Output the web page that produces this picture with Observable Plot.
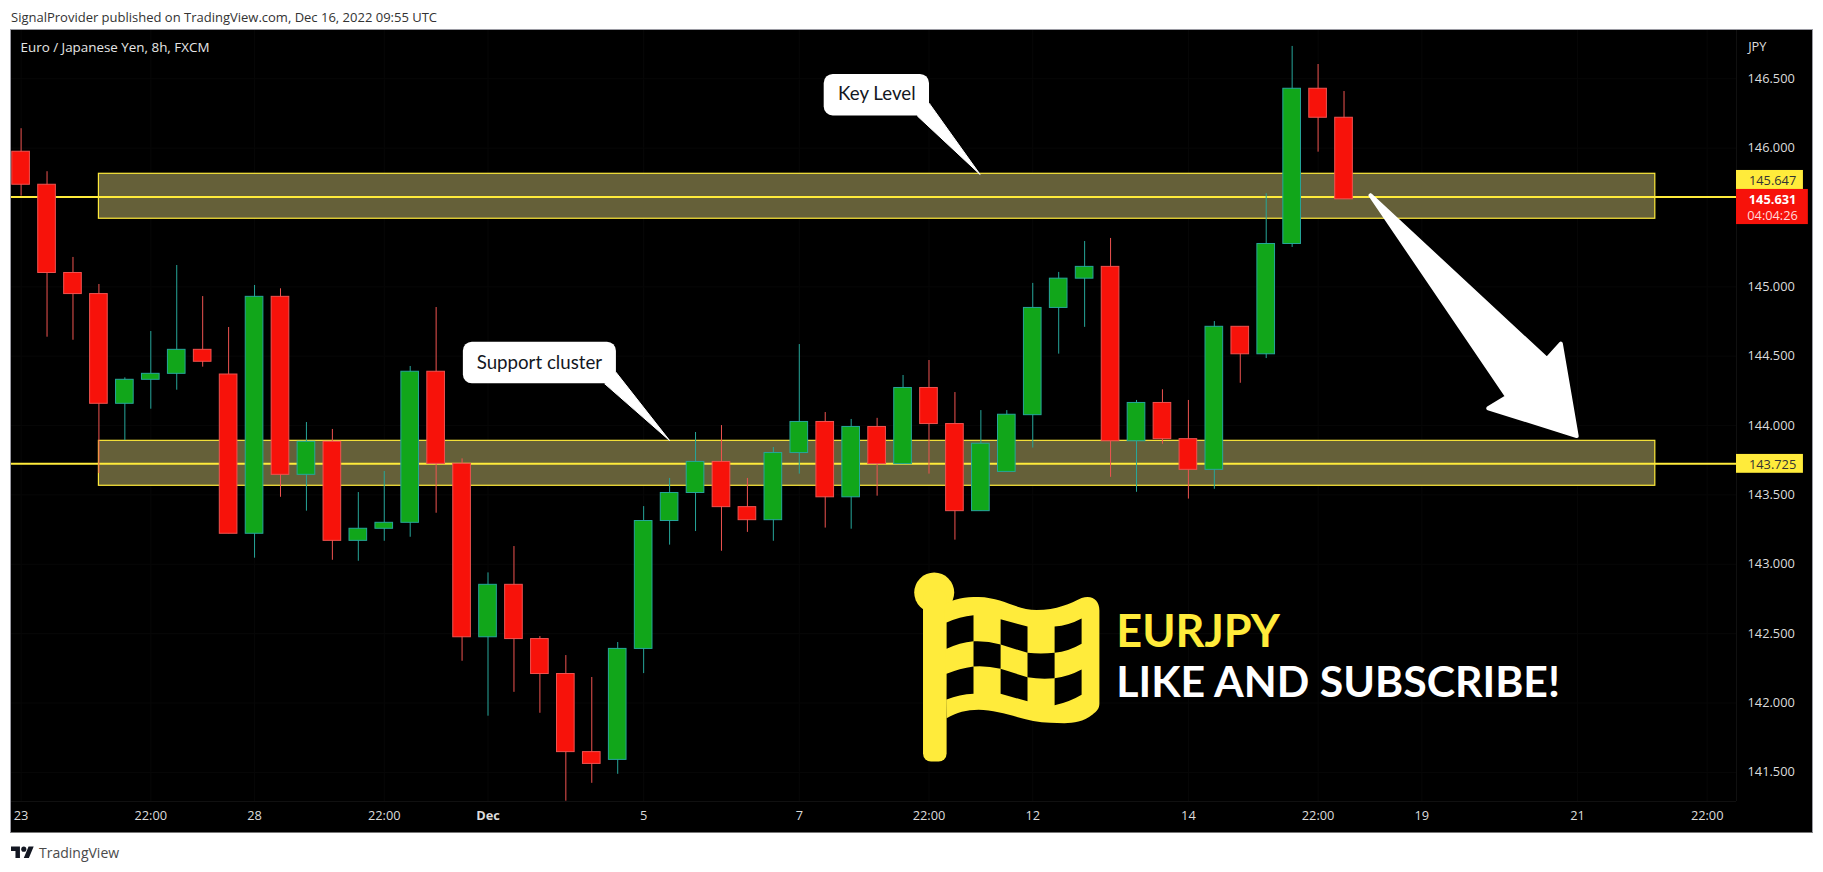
<!DOCTYPE html>
<html><head><meta charset="utf-8">
<style>
html,body{margin:0;padding:0;background:#fff;overflow:hidden}
#head{height:29px;box-sizing:border-box;padding:10px 0 0 11px;font:13px/14px "Open Sans",sans-serif;color:#333;white-space:nowrap}
#chart{margin-left:10px;width:1801px;height:802px;border:1px solid #9a9aa2;border-bottom-color:#777}
#chart svg{display:block}
#foot{height:39px;box-sizing:border-box;padding:0 0 0 11px;display:flex;align-items:center;gap:5px;font:14px "Open Sans",sans-serif;color:#4a4a4a}
</style>
<script src="https://cdn.jsdelivr.net/npm/d3@7"></script>
<script src="https://cdn.jsdelivr.net/npm/@observablehq/plot@0.6"></script>
</head><body>
<div id="head">SignalProvider published on TradingView.com, Dec 16, 2022 09:55 UTC</div>
<div id="chart"></div>
<div id="foot"><svg width="23" height="18" viewBox="0 0 36 28"><path fill="#131722" d="M14 22H7V11H0V4h14v18zM28 22h-8l7.5-18h8L28 22z"/><circle fill="#131722" cx="20" cy="8" r="4"/></svg><span>TradingView</span></div>
<script>
// Candles, one per 8h bar
const opens = [145.974,145.736,145.100,144.948,144.157,144.330,144.373,144.546,144.368,143.220,144.928,143.645,143.883,143.169,143.256,143.299,144.388,143.724,142.474,142.852,142.461,142.209,141.646,141.590,142.390,143.312,143.514,143.738,143.412,143.318,143.802,144.026,143.483,143.990,143.722,144.271,144.011,143.383,143.666,144.075,144.848,145.059,145.144,143.887,144.163,143.902,143.681,144.712,144.514,145.309,146.428,146.219];
const closes = [145.736,145.100,144.948,144.157,144.330,144.373,144.546,144.460,143.220,144.928,143.645,143.883,143.169,143.256,143.299,144.388,143.724,142.474,142.852,142.461,142.209,141.646,141.561,142.390,143.312,143.514,143.738,143.412,143.318,143.802,144.026,143.483,143.990,143.722,144.271,144.011,143.383,143.869,144.078,144.848,145.059,145.144,143.887,144.163,143.902,143.681,144.712,144.514,145.309,146.428,146.219,145.631];
const highs = [146.140,145.830,145.212,145.017,144.344,144.678,145.154,144.930,144.707,145.010,144.986,144.022,143.972,143.517,143.669,144.426,144.851,143.760,142.938,143.128,142.479,142.342,142.184,142.436,143.416,143.619,143.950,144.000,143.619,143.842,144.584,144.094,144.044,144.052,144.361,144.469,144.238,144.108,144.108,145.025,145.104,145.327,145.349,144.181,144.258,144.181,144.750,144.712,145.671,146.733,146.603,146.408];
const lows = [145.654,144.637,144.615,143.654,143.892,144.118,144.255,144.421,143.220,143.044,143.483,143.383,143.029,143.022,143.166,143.195,143.368,142.301,141.905,142.077,141.926,141.292,141.421,141.486,142.212,143.138,143.236,143.094,143.230,143.166,143.650,143.261,143.253,143.491,143.722,143.650,143.174,143.383,143.666,143.838,144.515,144.708,143.627,143.519,143.866,143.470,143.541,144.305,144.483,145.284,145.971,145.631];

// Axes
const priceTicks = [141.5,142,142.5,143,143.5,144,144.5,145,146,146.5];
const timeTickAt = [0,5,9,14,24,30,35,39,45,50,54,60,65];
const timeTickText = ["23","22:00","28","22:00","5","7","22:00","12","14","22:00","19","21","22:00"];
const monthTickAt = [18];
const monthTickText = ["Dec"];

// Levels and zones
const levels = [145.647,143.725];
const zoneStart = [3,3], zoneEnd = [63,63];
const zoneTop = [145.815,143.890], zoneBottom = [145.491,143.566];

// Callouts and arrow, in (bar, price)
const callouts = [
  {text:"Key Level", x1:30.96, x2:35.02, y1:146.232, y2:146.531, tx:32.99, ty:146.387,
   tail:[[35.02,146.320],[34.55,146.232],[36.97,145.810]]},
  {text:"Support cluster", x1:17.05, x2:22.95, y1:144.301, y2:144.601, tx:19.98, ty:144.453,
   tail:[[22.95,144.380],[22.50,144.301],[25.00,143.892]]}
];
const arrowBar = [52.02,58.82,59.36,59.97,56.56,57.29,52.02];
const arrowPrice = [145.660,144.480,144.590,143.925,144.125,144.209,145.660];

const green="#11a61a", red="#f7120a", greenLine="#26a69a", redLine="#ef5350", yellow="#ffeb3b";
const bars = opens.map((o,i)=>({i,o,c:closes[i],h:highs[i],l:lows[i],up:closes[i]>o}));
const up = bars.filter(d=>d.up), down = bars.filter(d=>!d.up);
const half = 0.34;
const zones = levels.map((_,k)=>({x1:zoneStart[k],x2:zoneEnd[k],y1:zoneBottom[k],y2:zoneTop[k]}));
const arrow = arrowBar.map((x,k)=>({x,y:arrowPrice[k]}));

const flagSvg = `<svg xmlns="http://www.w3.org/2000/svg" width="195" height="195" viewBox="-10 0 195 195">
<g fill="#ffeb3b">
<circle cx="13.6" cy="22" r="20"/>
<rect x="2.4" y="20" width="23.6" height="171" rx="8"/>
<path d="M24 34C34 28 44 26.5 58 26.5C82 27 96 39.5 116 39.5C136 39.5 150 33 161 27.5C172 24 178.8 30 178.8 40L178.8 133C178.8 138 176 141 172 144C158 155 144 152.3 129.6 152.3C106 152.3 82 139.3 58 139.3C46 139.3 36 142 26 147.7Z"/>
</g>
<g fill="#000">
<path d="M26 52Q39 46 52.900 44.700L52.900 70.700Q39 72 26 78.300Z"/>
<path d="M80 48.700L106.900 56L106.900 82.300L80 74Z"/>
<path d="M134 56Q148 55 161 48L161 73.300Q148 81 134 82.300Z"/>
<path d="M52.900 70.700Q66 70 80 74L80 98.300Q66 95 52.900 96Z"/>
<path d="M106.900 82.300Q120 83.500 134 82.300L134 107.700Q120 109 106.900 106.700Z"/>
<path d="M26 103.300Q39 98 52.900 96L52.900 123.300Q39 124 26 129Z"/>
<path d="M80 98.300L106.900 106.700L106.900 130.700L80 123.300Z"/>
<path d="M134 107.700Q148 106 161 99L161 124.300Q148 132 134 134.700Z"/>
</g></svg>`;
const flagSrc = "data:image/svg+xml;charset=utf-8," + encodeURIComponent(flagSvg);

const font = '"Open Sans", sans-serif';
const ui = {fill:"#dcdcdc", fontSize:12.8, fontFamily:font};
const plot = Plot.plot({
  width:1801, height:802,
  marginLeft:0, marginRight:76, marginTop:0, marginBottom:31,
  style:{background:"#000", fontFamily:font},
  x:{type:"linear", domain:[-0.37,66.13], label:null},
  y:{type:"linear", domain:[141.29,146.848], label:null},
  marks:[
    Plot.gridX(timeTickAt.concat(monthTickAt),{stroke:"#070707",strokeOpacity:1,y1:141.29,y2:146.848}),
    Plot.gridY(priceTicks,{stroke:"#070707",strokeOpacity:1}),
    Plot.ruleY([141.29],{stroke:"#101010"}),
    Plot.ruleX([66.13],{stroke:"#101010",y1:141.29,y2:146.848}),
    Plot.rect(zones,{x1:"x1",x2:"x2",y1:"y1",y2:"y2",fill:"#656039",stroke:yellow,strokeWidth:1.2}),
    Plot.ruleY(levels,{stroke:yellow,strokeWidth:2}),
    Plot.ruleX(up,{x:"i",y1:"l",y2:"h",stroke:greenLine}),
    Plot.ruleX(down,{x:"i",y1:"l",y2:"h",stroke:redLine}),
    Plot.rect(up,{x1:d=>d.i-half,x2:d=>d.i+half,y1:"o",y2:"c",fill:green,stroke:greenLine,strokeWidth:1}),
    Plot.rect(down,{x1:d=>d.i-half,x2:d=>d.i+half,y1:"o",y2:"c",fill:red,stroke:redLine,strokeWidth:1}),
    ...callouts.map(c=>Plot.line(c.tail.concat([c.tail[0]]),{x:d=>d[0],y:d=>d[1],fill:"#fff",stroke:"#fff",strokeWidth:1,strokeLinejoin:"round"})),
    Plot.rect(callouts,{x1:"x1",x2:"x2",y1:"y1",y2:"y2",fill:"#fff",rx:9}),
    Plot.text(callouts,{x:"tx",y:"ty",text:"text",fill:"#131722",fontFamily:"Lato, sans-serif",fontSize:18.7}),
    Plot.line(arrow,{x:"x",y:"y",fill:"#fff",stroke:"#fff",strokeWidth:4,strokeLinejoin:"round"}),
    Plot.image([{x:38.05,y:142.252}],{x:"x",y:"y",width:195,height:195,src:()=>flagSrc}),
    Plot.text(["EURJPY"],{x:[42.22],y:[142.51],textAnchor:"start",fill:yellow,fontFamily:"Lato, sans-serif",fontWeight:700,fontSize:45}),
    Plot.text(["LIKE AND SUBSCRIBE!"],{x:[42.22],y:[142.14],textAnchor:"start",fill:"#fff",fontFamily:"Lato, sans-serif",fontWeight:700,fontSize:42.8}),
    Plot.text(["Euro / Japanese Yen, 8h, FXCM"],{frameAnchor:"top-left",dx:9,dy:12,fill:"#e6e6e6",fontSize:13.4,fontFamily:font}),
    Plot.axisY(priceTicks,{anchor:"right",label:null,tickSize:0,tickPadding:11,tickFormat:d=>d.toFixed(3),...ui}),
    Plot.text(["JPY"],{x:[66.58],y:[146.733],textAnchor:"start",...ui}),
    Plot.axisX(timeTickAt,{anchor:"bottom",label:null,tickSize:0,tickPadding:9,tickFormat:d=>timeTickText[timeTickAt.indexOf(d)],...ui}),
    Plot.axisX(monthTickAt,{anchor:"bottom",label:null,tickSize:0,tickPadding:9,fontWeight:"bold",tickFormat:d=>monthTickText[monthTickAt.indexOf(d)],...ui}),
    Plot.rect([{a:66.13,b:68.71,y1:145.702,y2:145.839},{a:66.13,b:68.71,y1:143.656,y2:143.792}],{x1:"a",x2:"b",y1:"y1",y2:"y2",fill:yellow}),
    Plot.rect([{a:66.13,b:68.9,y1:145.449,y2:145.702}],{x1:"a",x2:"b",y1:"y1",y2:"y2",fill:red}),
    Plot.text(["145.647","143.725"],{x:[67.52,67.52],y:[145.767,143.719],fill:"#333",fontSize:12.8,fontFamily:font}),
    Plot.text(["145.631"],{x:[67.52],y:[145.628],fill:"#fff",fontSize:12.8,fontWeight:700,fontFamily:font}),
    Plot.text(["04:04:26"],{x:[67.52],y:[145.514],fill:"#ffd9d9",fontSize:12.8,fontFamily:font})
  ]
});
document.getElementById("chart").appendChild(plot);
</script>
</body></html>
